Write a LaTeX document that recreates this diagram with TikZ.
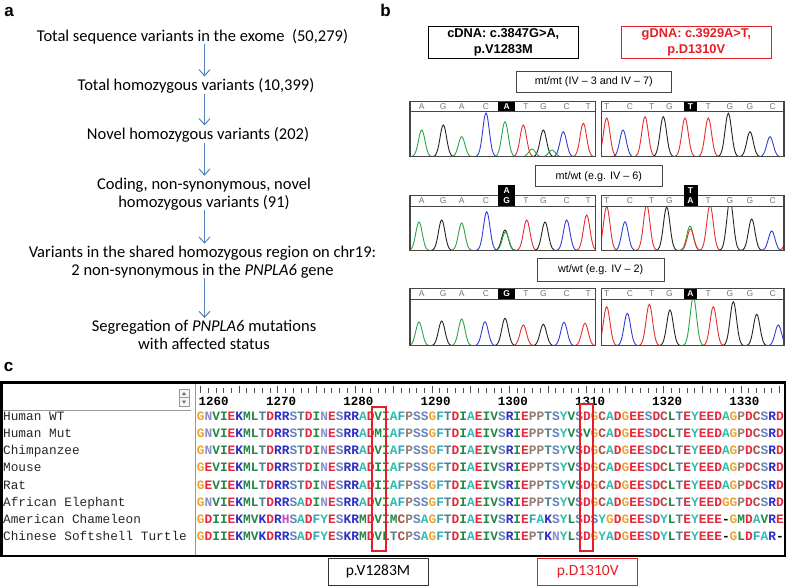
\documentclass[tikz,border=0pt]{standalone}
\usepackage{fontspec}
\setmainfont{Liberation Sans}
\newfontfamily\calfont{Carlito}
\newfontfamily\monofont{Liberation Mono}
\usetikzlibrary{arrows.meta}
\definecolor{flowblue}{RGB}{79,129,189}
\definecolor{mutred}{RGB}{228,30,36}
\definecolor{frameg}{RGB}{70,70,70}
\definecolor{baseA}{RGB}{40,165,70}
\definecolor{baseC}{RGB}{50,60,215}
\definecolor{baseG}{RGB}{35,35,35}
\definecolor{baseT}{RGB}{230,45,45}
% residue colours
\definecolor{rcG}{RGB}{235,165,50}
\definecolor{rcN}{RGB}{140,140,205}
\definecolor{rcV}{RGB}{35,135,70}
\colorlet{rcI}{rcV}
\colorlet{rcL}{rcV}
\colorlet{rcM}{rcV}
\definecolor{rcE}{RGB}{230,40,60}
\colorlet{rcD}{rcE}
\definecolor{rcK}{RGB}{45,45,200}
\colorlet{rcR}{rcK}
\definecolor{rcS}{RGB}{100,130,185}
\definecolor{rcT}{RGB}{80,130,140}
\definecolor{rcA}{RGB}{45,190,175}
\colorlet{rcY}{rcA}
\definecolor{rcF}{RGB}{50,165,185}
\definecolor{rcP}{RGB}{150,125,115}
\definecolor{rcC}{RGB}{175,75,70}
\definecolor{rcH}{RGB}{205,70,205}

\newcommand\resrow[1]{\expandafter\resnext#1\relax}
\newcommand\resnext[1]{\ifx#1\relax\else\ifx#1-\textcolor{black}{-}\else\textcolor{rc#1}{#1}\fi\expandafter\resnext\fi}
\newcommand\peak[4]{\draw[#3, line width=.9pt, shift={(#1,0)}] plot[domain=-11:11, samples=25, smooth, variable=\u] (\u,{#4-(#4-#2)*exp(0-(\u/4.6)^2)});}

\tikzset{
  flowtext/.style={inner sep=0pt, align=center, font=\calfont\fontsize{16.5}{18}\selectfont},
  flow/.style={flowblue, line width=1pt, -{Straight Barb[length=6pt, width=11pt]}, shorten >=2pt},
  panel/.style={anchor=base, inner sep=0pt, font=\bfseries\fontsize{17}{17}\selectfont},
  cbox/.style={draw=black, line width=1pt, minimum width=150pt, minimum height=31.6pt, inner sep=0pt, align=center, font=\bfseries\fontsize{12.8}{16.6}\selectfont},
  gbox/.style={draw=frameg, line width=.8pt, minimum height=21pt, inner sep=0pt, font=\fontsize{10.8}{12}\selectfont},
  callbase/.style={inner sep=0pt, text=black!55, font=\fontsize{8.5}{8.5}\selectfont},
  hibase/.style={inner sep=0pt, text=white, font=\bfseries\fontsize{8.5}{8.5}\selectfont},
  chrom/.style={draw=frameg, line width=1.1pt},
  spname/.style={anchor=base west, inner sep=0pt, text=black!85, font=\monofont\fontsize{12.75}{12.75}\selectfont},
  seqrow/.style={anchor=base west, inner sep=0pt, font=\monofont\bfseries\fontsize{12.87}{12.87}\selectfont},
  ruler/.style={anchor=base, inner sep=0pt, font=\monofont\bfseries\fontsize{12.5}{12.5}\selectfont},
  plabel/.style={minimum width=100pt, minimum height=27.5pt, inner sep=0pt, line width=.8pt, font=\calfont\fontsize{15.5}{15.5}\selectfont}
}

\begin{document}
\begin{tikzpicture}[x=1pt, y=-1pt]
\useasboundingbox (0,0) rectangle (787,586);

% panel a
\node[panel] (la) at (9,16.7) {a};
\node[flowtext] (s1) at (192.5,36.7) {Total sequence variants in the exome\ \ (50,279)};
\node[flowtext] (s2) at (196,86) {Total homozygous variants (10,399)};
\node[flowtext] (s3) at (198,135) {Novel homozygous variants (202)};
\node[flowtext] (s4) at (204,194) {Coding, non-synonymous, novel\\homozygous variants (91)};
\node[flowtext] (s5) at (202.5,262) {Variants in the shared homozygous region on chr19:\\2 non-synonymous in the \textit{PNPLA6} gene};
\node[flowtext] (s6) at (204,335) {Segregation of \textit{PNPLA6} mutations\\with affected status};
\coordinate (ax) at (204.5,0);
\draw[flow] (s1.south -| ax) -- (s2.north -| ax);
\draw[flow] (s2.south -| ax) -- (s3.north -| ax);
\draw[flow] (s3.south -| ax) -- (s4.north -| ax);
\draw[flow] (s4.south -| ax) -- (s5.north -| ax);
\draw[flow] (s5.south -| ax) -- (s6.north -| ax);

% panel b
\node[panel] (lb) at (385.5,16.7) {b};
\node[cbox] (cdna) at (503.3,42.5) {cDNA: c.3847G{\textgreater}A,\\p.V1283M};
\node[cbox, draw=mutred, text=mutred] (gdna) at (696.3,42.5) {gDNA: c.3929A{\textgreater}T,\\p.D1310V};
\node[gbox, minimum width=155.7pt] (mm) at (593.8,82.2) {mt/mt (IV -- 3 and IV -- 7)};
\node[gbox, minimum width=127.7pt] (mw) at (598.8,176.3) {mt/wt (e.g. IV -- 6)};
\node[gbox, minimum width=126.7pt, minimum height=23.4pt] (ww) at (600.7,270) {wt/wt (e.g. IV -- 2)};

% chromatograms, mt/mt
\begin{scope}
\clip (410,111.7) rectangle (595.5,156.7);
\foreach \px/\pt/\pc in {421.7/130/baseA, 443.3/125/baseG, 461.7/136.7/baseA, 486/113/baseC, 505/121.7/baseA, 523.3/125/baseT, 543.3/130/baseG, 563.3/131.7/baseC, 583.3/123.3/baseT, 532/149/baseA, 552/150/baseA}
  {\peak{\px}{\pt}{\pc}{156.7}}
\end{scope}
\begin{scope}
\clip (601.5,111.7) rectangle (784,156.7);
\foreach \px/\pt/\pc in {606.7/118/baseT, 623/130/baseC, 645/116.7/baseT, 663.3/116.7/baseG, 685/118/baseT, 708.3/118/baseT, 728.3/113.3/baseG, 750/131.7/baseG, 770/136.7/baseC}
  {\peak{\px}{\pt}{\pc}{156.7}}
\end{scope}
% mt/wt
\begin{scope}
\clip (410,206) rectangle (595.5,250.5);
\foreach \px/\pt/\pc in {419/222/baseA, 441.7/220/baseG, 461.7/223/baseA, 486.7/211.7/baseC, 505/230/baseG, 505.5/232/baseA, 526.7/220/baseT, 545/222/baseG, 566.7/220/baseC, 586.7/215/baseT}
  {\peak{\px}{\pt}{\pc}{250.5}}
\end{scope}
\begin{scope}
\clip (601.5,206) rectangle (784,250.5);
\foreach \px/\pt/\pc in {606.7/206.7/baseT, 625/221.7/baseC, 646.7/205/baseT, 666.7/207/baseG, 690/226/baseA, 690.5/229/baseT, 710/205/baseT, 730/200/baseG, 751.7/219/baseG, 771.7/231/baseC, 790/215/baseT}
  {\peak{\px}{\pt}{\pc}{250.5}}
\end{scope}
% wt/wt
\begin{scope}
\clip (410,299) rectangle (595.5,345.7);
\foreach \px/\pt/\pc in {419/322/baseA, 441.7/321/baseG, 461.7/319/baseA, 485/321.7/baseC, 505/318.3/baseG, 523.3/325/baseT, 543.3/324.3/baseG, 564/322.3/baseC, 585/323.3/baseT}
  {\peak{\px}{\pt}{\pc}{345.7}}
\end{scope}
\begin{scope}
\clip (601.5,299) rectangle (784,345.7);
\foreach \px/\pt/\pc in {606.7/306.7/baseT, 627.3/313.3/baseC, 649.3/304.3/baseT, 670/310/baseG, 693.3/297/baseA, 713.3/306.7/baseT, 733.3/301.7/baseG, 756.7/314.3/baseG, 778.3/325/baseC}
  {\peak{\px}{\pt}{\pc}{345.7}}
\end{scope}

% frames and base calls
\foreach \ty/\hy/\by [count=\r] in {101.7/111.7/156.7, 195.5/206/250.5, 288.5/299/345.7} {
  \draw[chrom] (410,\ty) rectangle (595.5,\by);
  \draw[chrom] (601.5,\ty) rectangle (784,\by);
  \draw[frameg, line width=.8pt] (410,\hy) -- (595.5,\hy) (601.5,\hy) -- (784,\hy);
  \foreach \bx/\bl [count=\k] in {421.7/A, 443.3/G, 461.7/A, 486/C, 526/T, 543.3/G, 566.7/C, 588.3/T}
    \node[callbase] (bl\r\k) at (\bx,{(\ty+\hy)/2}) {\bl};
  \foreach \bx/\bl [count=\k] in {606.7/T, 630/C, 651.7/T, 669.3/G, 708.3/T, 730/G, 750/G, 772.7/C}
    \node[callbase] (br\r\k) at (\bx,{(\ty+\hy)/2}) {\bl};
}
\fill[black] (498.3,102.2) rectangle (515,111.2);
\fill[black] (684,102.2) rectangle (697,111.2);
\node[hibase] (h1l) at (506.7,106.7) {A};
\node[hibase] (h1r) at (690.5,106.7) {T};
\fill[black] (498.3,185) rectangle (515,205.5);
\fill[black] (683.5,185) rectangle (697.5,205.5);
\node[hibase] (h2la) at (506.7,190.5) {A};
\node[hibase] (h2lg) at (506.7,201) {G};
\node[hibase] (h2rt) at (690.5,190.5) {T};
\node[hibase] (h2ra) at (690.5,201) {A};
\fill[black] (498.3,289) rectangle (515,298.5);
\fill[black] (684,289) rectangle (697,298.5);
\node[hibase] (h3l) at (506.7,293.7) {G};
\node[hibase] (h3r) at (690.5,293.7) {A};

% panel c
\node[panel] (lc) at (8.5,371.7) {c};
\draw[black!40, line width=.8pt] (195.5,383) -- (195.5,555);
\draw[black!40, line width=.8pt] (2,410) -- (191,410);
\draw[black!40, fill=black!4, line width=.6pt] (179,389) rectangle (189,406);
\draw[black!40, line width=.6pt] (179,397.5) -- (189,397.5);
\fill[black!60] (182,395) -- (186,395) -- (184,392) -- cycle;
\fill[black!60] (182,400.5) -- (186,400.5) -- (184,403.5) -- cycle;
\foreach \n in {0,...,75} {
  \pgfmathsetmacro\tl{mod(\n,5)==0 ? 385.5 : 388}
  \draw[black!70, line width=.7pt] (200.5+7.72*\n,\tl) -- (200.5+7.72*\n,392.5);
}
\node[ruler, anchor=base west] (tick0) at (198.3,405.5) {1260};
\foreach \k in {1,...,7} {
  \pgfmathtruncatemacro\lab{1260+10*\k}
  \node[ruler] (tick\k) at (204+77.2*\k,405.5) {\lab};
}
\foreach \nm/\sq [count=\k from 0] in {
  Human WT/GNVIEKMLTDRRSTDINESRRADVIAFPSSGFTDIAEIVSRIEPPTSYVSDGCADGEESDCLTEYEEDAGPDCSRD,
  Human Mut/GNVIEKMLTDRRSTDINESRRADMIAFPSSGFTDIAEIVSRIEPPTSYVSVGCADGEESDCLTEYEEDAGPDCSRD,
  Chimpanzee/GNVIEKMLTDRRSTDINESRRADVIAFPSSGFTDIAEIVSRIEPPTSYVSDGCADGEESDCLTEYEEDAGPDCSRD,
  Mouse/GEVIEKMLTDRRSTDINESRRADIIAFPSSGFTDIAEIVSRIEPPTSYVSDGCADGEESDCLTEYEEDAGPDCSRD,
  Rat/GEVIEKMLTDRRSTDINESRRADIIAFPSSGFTDIAEIVSRIEPPTSYVSDGCADGEESDCLTEYEEDAGPDCSRD,
  African Elephant/GNVIEKMLTDRRSADINESRRADVIAFPSSGFTDIAEIVSRIEPPTSYVSDGCADGEESDCLTEYEEDGGPDCSRD,
  American Chameleon/GDIIEKMVKDRHSADFYESKRMDVIMCPSAGFTDIAEIVSRIEFAKSYLSDSYGDGEESDYLTEYEEE-GMDAVRE,
  Chinese Softshell Turtle/GDIIEKMVKDRRSADFYESKRMDVLTCPSAGFTDIAEIVSRIEPTKNYLSDGYADGEESDYLTEYEEE-GLDFAR-} {
  \node[spname] (sp\k) at (3,420.3+17.23*\k) {\nm};
  \node[seqrow] (sq\k) at (196.64,420.3+17.23*\k) {\resrow{\sq}};
}
\draw[mutred, line width=2pt] (371.7,407.3) rectangle (385.7,550.7);
\draw[mutred, line width=2pt] (580,404) rectangle (593.3,550.7);
\draw[black, line width=2.5pt] (1.5,382.5) rectangle (785,556);
\node[plabel, draw=black!80] (pv) at (378,571.8) {p.V1283M};
\node[plabel, draw=mutred, text=mutred] (pd) at (587.7,571.8) {p.D1310V};
\end{tikzpicture}
\end{document}
